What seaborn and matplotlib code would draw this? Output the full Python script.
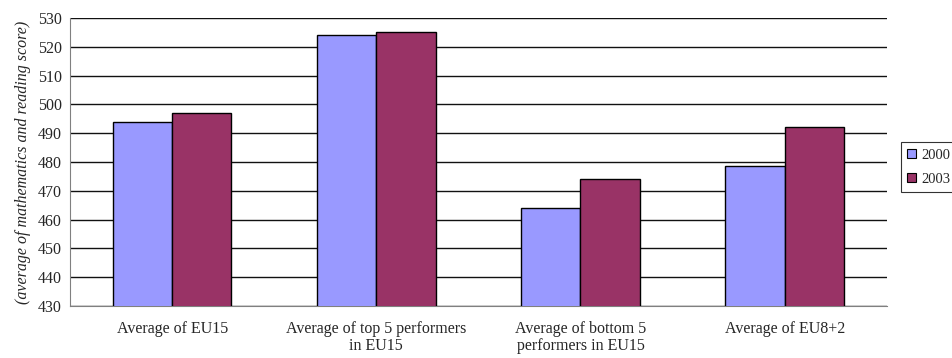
import matplotlib
matplotlib.use("Agg")
import matplotlib.pyplot as plt
from matplotlib.ticker import FixedLocator
import seaborn as sns
import pandas as pd

# Values
categories = ["Average of EU15",
              "Average of top 5 performers\nin EU15",
              "Average of bottom 5\nperformers in EU15",
              "Average of EU8+2"]
years = ["2000", "2003"]
scores_2000 = [494, 524, 464, 478.5]
scores_2003 = [497, 525, 474, 492]

df = pd.DataFrame({
    "category": categories * 2,
    "year": [years[0]] * 4 + [years[1]] * 4,
    "score": scores_2000 + scores_2003,
})

sns.set_style("white")
plt.rcParams["font.family"] = ["Liberation Serif", "DejaVu Serif"]

fig = plt.figure(figsize=(9.53, 3.58), dpi=100)
ax = fig.add_axes([0.0735, 0.1453, 0.857, 0.8044])

sns.barplot(data=df, x="category", y="score", hue="year",
            palette={"2000": "#9999FF", "2003": "#993366"}, saturation=1,
            edgecolor="black", linewidth=1, width=0.58, gap=0,
            errorbar=None, ax=ax, zorder=3)

ax.set_ylim(430, 530)
ax.set_xlim(-0.5, 3.5)
ax.set_yticks(range(430, 531, 10))
ax.yaxis.grid(True, color="#111111", linewidth=1)
ax.set_axisbelow(True)

for side in ["top", "right"]:
    ax.spines[side].set_visible(False)
ax.spines["left"].set_color("#808080")
ax.spines["bottom"].set_color("#808080")

# category labels centred, tick marks at the group boundaries
ax.tick_params(axis="x", which="major", length=0, pad=11, labelsize=11.5)
ax.xaxis.set_minor_locator(FixedLocator([-0.5, 0.5, 1.5, 2.5, 3.5]))
ax.tick_params(axis="x", which="minor", length=4, color="black", direction="out")
ax.tick_params(axis="y", length=4, color="black", direction="out", labelsize=11.5, pad=2)
for lbl in ax.get_xticklabels():
    lbl.set_linespacing(1.05)

ax.set_xlabel("")
ax.set_ylabel("(average of mathematics and reading score)", fontstyle="italic",
              fontsize=11.5, labelpad=5)

leg = ax.legend(loc="center left", bbox_to_anchor=(1.017, 0.481), frameon=True,
                fancybox=False, edgecolor="black", fontsize=10.5,
                handlelength=0.6, handleheight=0.6, handletextpad=0.4,
                borderpad=0.45, labelspacing=0.75, borderaxespad=0)
leg.get_frame().set_linewidth(0.8)
for h in leg.legend_handles:
    h.set_edgecolor("black")
    h.set_linewidth(0.8)

fig.savefig("out.png", dpi=100)
